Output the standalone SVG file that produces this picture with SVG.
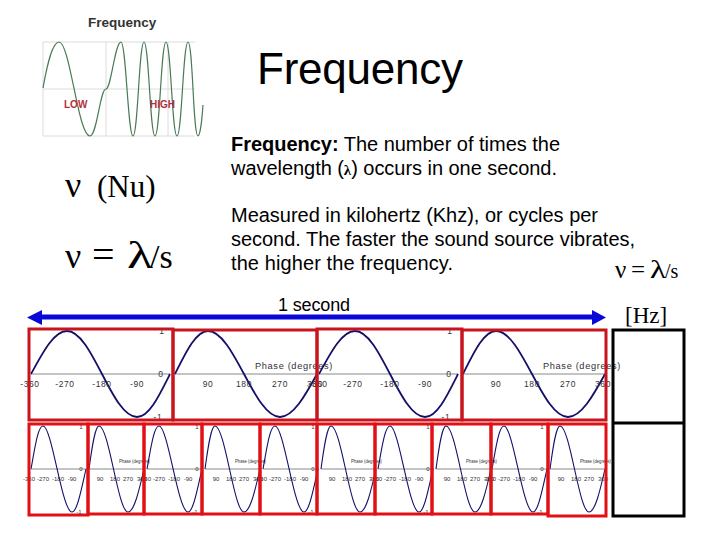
<svg xmlns="http://www.w3.org/2000/svg" xmlns:xlink="http://www.w3.org/1999/xlink" width="720" height="540" viewBox="0 0 720 540">
<style>
text{font-family:"Liberation Sans",Arial,sans-serif;fill:#000}
.serif{font-family:"Liberation Serif","Times New Roman",serif}
.body{font-size:20px}
.grid{stroke:#dcdcdc;stroke-width:1;fill:none}
.axis{stroke:#8a8a8a;stroke-width:1;fill:none}
.wave{stroke:#14106a;stroke-width:1.800;fill:none}
.swave{stroke:#14106a;stroke-width:1.100;fill:none}
.lab{font-size:8.500px;text-anchor:middle;fill:#333;letter-spacing:.6px}
.slab{font-size:6px;text-anchor:middle;fill:#333}
.red{fill:none;stroke:#c8141c;stroke-width:3}
.sred{fill:none;stroke:#e01014;stroke-width:3}
.blk{fill:none;stroke:#000;stroke-width:3}
</style>
<defs>
<g id="bigA">
<path class="axis" d="M31 374H170"/>
<path class="wave" d="M31 374C43 352 54 331 67 331C92.500 331 111.500 417 137 417C149 417 159 396 170 374"/>
<text class="lab" x="30" y="387">-360</text><text class="lab" x="65" y="387">-270</text><text class="lab" x="102" y="387">-180</text><text class="lab" x="137" y="387">-90</text>
<text class="lab" x="162" y="334">1</text><text class="lab" x="161" y="377">0</text><text class="lab" x="158" y="420">-1</text>
</g>
<g id="bigB">
<path class="axis" d="M175 374H317"/>
<path class="wave" d="M175 374C186 352 196 331 208 331C234 331 254 417 280 417C293 417 305 396 317 374"/>
<text class="lab" x="208" y="387">90</text><text class="lab" x="244" y="387">180</text><text class="lab" x="280" y="387">270</text><text class="lab" x="315" y="387">360</text>
<text class="lab" x="255" y="369" style="text-anchor:start" textLength="78" lengthAdjust="spacingAndGlyphs">Phase (degrees)</text>
</g>
<g id="smallA">
<path class="axis" d="M31 469H87"/>
<path class="swave" d="M31 469C35 447 38 426 43 426C52 426 62 512 72 512C77 512 81 491 86 469"/>
<text class="slab" x="29" y="481">-360</text><text class="slab" x="43" y="481">-270</text><text class="slab" x="58" y="481">-180</text><text class="slab" x="72" y="481">-90</text>
<text class="slab" x="81" y="429">1</text><text class="slab" x="81" y="471">0</text><text class="slab" x="79" y="514">-1</text>
</g>
<g id="smallB">
<path class="axis" d="M89 469H144"/>
<path class="swave" d="M89 469C92 447 95 426 99 426C109 426 118 512 128 512C134 512 139 491 144 469"/>
<text class="slab" x="100" y="481">90</text><text class="slab" x="115" y="481">180</text><text class="slab" x="128" y="481">270</text><text class="slab" x="142" y="481">360</text>
<text class="slab" x="119" y="463" style="text-anchor:start" textLength="31" lengthAdjust="spacingAndGlyphs">Phase (degrees)</text>
</g>
</defs>

<g id="title"><text x="257" y="84" font-size="44" textLength="206">Frequency</text></g>

<g id="frequency-figure">
<path class="grid" d="M43 42H195M43 89H195M43 136H195M43 42V136M106 42V136M168 42V136"/>
<path d="M43 88C47 66 52 42 59 42C70 42 78 136 90 136C97 136 100 89 106 89C111 89 115 42 121 42C126 42 128 136 133 136C138 136 139 42 144 42C149 42 150 136 155 136C160 136 161 42 166 42C171 42 172 136 177 136C182 136 183 42 188 42C193 42 193 136 198 136C200 136 202 120 203 105" fill="none" stroke="#4a7a55" stroke-width="1.200"/>
<text x="88" y="27" font-size="13.500" font-weight="700" style="fill:#333">Frequency</text>
<text x="64" y="108" font-size="10" font-weight="700" style="fill:#b03040">LOW</text>
<text x="150" y="108" font-size="10" font-weight="700" style="fill:#b03040">HIGH</text>
</g>

<g id="nu-labels">
<text class="serif" x="65" y="197" font-size="36">ν</text>
<text class="serif" x="97" y="197" font-size="31">(Nu)</text>
<text class="serif" x="65" y="268" font-size="36">ν</text>
<text class="serif" x="92" y="268" font-size="40">=</text>
<text class="serif" x="127" y="268" font-size="38" textLength="26" lengthAdjust="spacingAndGlyphs">λ</text>
<text class="serif" x="150" y="268" font-size="34">/s</text>
</g>

<g id="description">
<text class="body" x="231" y="151" textLength="329"><tspan font-weight="700">Frequency:</tspan> The number of times the</text>
<text class="body" x="231" y="175" textLength="326">wavelength (<tspan class="serif" font-size="15" font-weight="700">λ</tspan>) occurs in one second.</text>
<text class="body" x="231" y="222" textLength="367">Measured in kilohertz (Khz), or cycles per</text>
<text class="body" x="231" y="246" textLength="404">second. The faster the sound source vibrates,</text>
<text class="body" x="231" y="270" textLength="222">the higher the frequency.</text>
<text class="serif" x="615" y="278" font-size="25">ν</text>
<text class="serif" x="631" y="278" font-size="25">=</text>
<text class="serif" x="650" y="278" font-size="25" textLength="16" lengthAdjust="spacingAndGlyphs">λ</text>
<text class="serif" x="665" y="278" font-size="20">/s</text>
</g>

<g id="one-second">
<text x="278" y="311" font-size="18" textLength="72">1 second</text>
</g>
<g id="hz-label"><text class="serif" x="625" y="323" font-size="23">[Hz]</text></g>

<g id="connectors">
<path d="M40 317H594" stroke="#0808d8" stroke-width="5" fill="none"/>
<path d="M27 317.500L42 310V325Z" fill="#0808d8"/>
<path d="M606 317.500L592 310V325Z" fill="#0808d8"/>
</g>

<g id="big-waves">
<use xlink:href="#bigA" href="#bigA"/>
<use xlink:href="#bigB" href="#bigB"/>
<use xlink:href="#bigA" href="#bigA" x="288"/>
<use xlink:href="#bigB" href="#bigB" x="288"/>
</g>
<g id="big-boxes">
<rect class="red" x="29" y="329" width="144" height="91"/>
<rect class="red" x="173" y="330" width="144" height="90"/>
<rect class="red" x="317" y="329" width="145" height="91"/>
<rect class="red" x="462" y="330" width="144" height="90"/>
</g>

<g id="small-waves">
<use xlink:href="#smallA" href="#smallA"/><use xlink:href="#smallB" href="#smallB"/>
<use xlink:href="#smallA" href="#smallA" x="116"/><use xlink:href="#smallB" href="#smallB" x="116"/>
<use xlink:href="#smallA" href="#smallA" x="232"/><use xlink:href="#smallB" href="#smallB" x="232"/>
<use xlink:href="#smallA" href="#smallA" x="347"/><use xlink:href="#smallB" href="#smallB" x="347"/>
<use xlink:href="#smallA" href="#smallA" x="461"/><use xlink:href="#smallB" href="#smallB" x="461"/>
</g>
<g id="small-boxes">
<rect class="sred" x="29" y="424" width="59" height="91"/>
<rect class="sred" x="88" y="424" width="56" height="90"/>
<rect class="sred" x="144" y="424" width="58" height="90"/>
<rect class="sred" x="202" y="424" width="58" height="90"/>
<rect class="sred" x="260" y="424" width="57" height="90"/>
<rect class="sred" x="317" y="424" width="58" height="90"/>
<rect class="sred" x="375" y="424" width="57" height="90"/>
<rect class="sred" x="432" y="424" width="59" height="90"/>
<rect class="sred" x="491" y="424" width="57" height="90"/>
<rect class="sred" x="548" y="424" width="58" height="92"/>
</g>

<g id="hz-table">
<rect class="blk" x="613" y="330" width="71" height="186"/>
<path class="blk" d="M613 423H684" stroke-width="2"/>
</g>
</svg>
